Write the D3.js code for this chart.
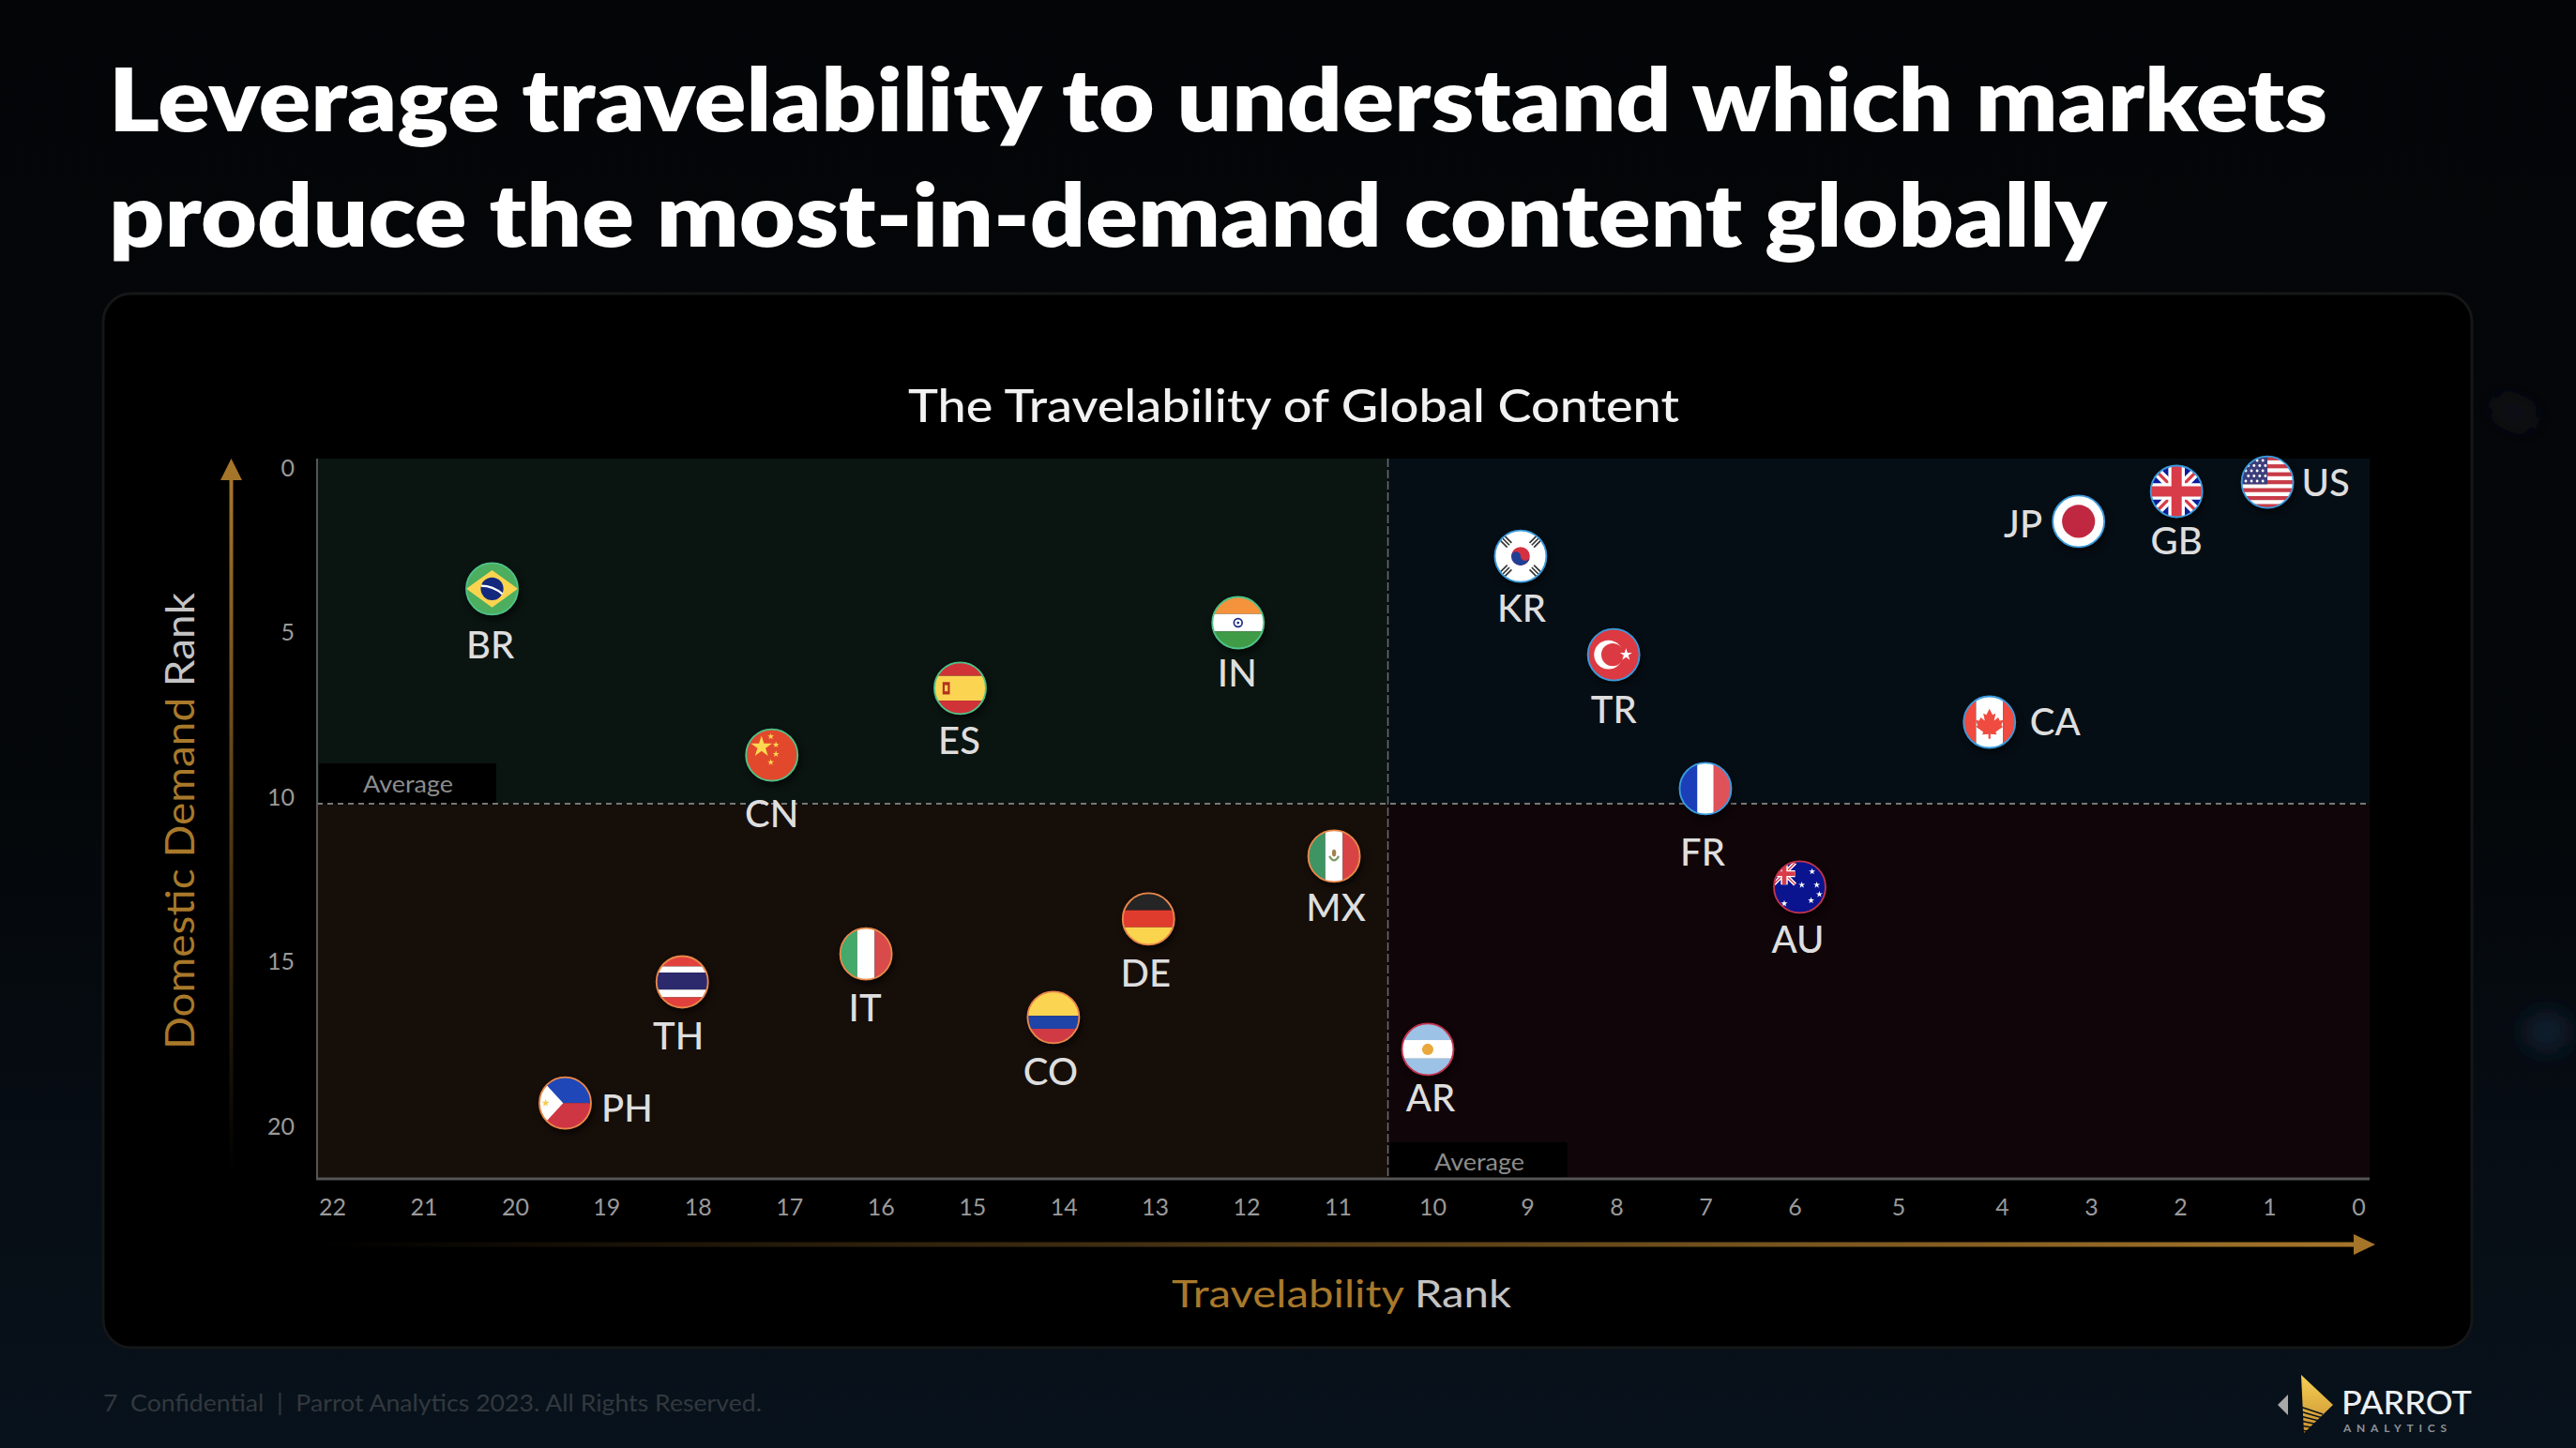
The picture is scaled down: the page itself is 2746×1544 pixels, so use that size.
<!DOCTYPE html>
<html>
<head>
<meta charset="utf-8">
<script src="https://cdn.jsdelivr.net/npm/d3@7"></script>
<style>
  body { margin: 0; background: #000; }
  svg { display: block; }
  text { font-family: Lato, sans-serif; }
  .flag { filter: drop-shadow(4px 8px 6px rgba(0,0,0,.55)); }
</style>
</head>
<body>
<div id="chart"></div>
<script>
// data
var countries      = ["BR","IN","ES","CN","KR","TR","JP","GB","US","CA","FR","MX","AU","DE","IT","TH","CO","AR","PH"];
var travelability  = [20.25,12.09,15.13,17.19,9.07,8.03,3.14,2.04,1.02,4.12,7.0,11.04,5.95,13.07,16.16,18.17,14.11,10.05,19.45];
var domesticDemand = [3.70,4.73,6.72,8.75,2.71,5.70,1.65,0.74,0.46,7.75,9.77,11.82,12.76,13.73,14.79,15.64,16.72,17.69,19.32];
var xTicks = d3.range(22, -1, -1);
var yTicks = [0, 5, 10, 15, 20];
var avgTravelability = 10.47;
var avgDemand = 10.23;

// where each country code sits relative to its flag
var labelOffset = {
  BR:[-2,60], IN:[-1,54], ES:[-1,56], CN:[0,62], KR:[1,55], TR:[0,59], JP:[-59,3], GB:[0,53], US:[62,0], CA:[70,0],
  FR:[-3,68], MX:[2,55], AU:[-2,56], DE:[-3,58], IT:[-1,57], TH:[-4,58], CO:[-3,58], AR:[3,52], PH:[66,5]
};

var width = 2746, height = 1544;
var plot = {left: 338, right: 2526, top: 489, bottom: 1257};
var gold = "#a9792b";
var flagR = 27.5;

// the tick row in the picture is not evenly spaced, so the scale has knots
var x = d3.scaleLinear().domain([22, 11, 9, 6, 4, 0]).range([354, 1426, 1628, 1913, 2134, 2514]);
var y = d3.scaleLinear().domain([0, 20]).range([498, 1200]);

var svg = d3.select("#chart").append("svg").attr("width", width).attr("height", height);
var defs = svg.append("defs");

function gradient(id, x1, y1, x2, y2, stops) {
  var g = defs.append("linearGradient").attr("id", id).attr("gradientUnits", "userSpaceOnUse")
    .attr("x1", x1).attr("y1", y1).attr("x2", x2).attr("y2", y2);
  stops.forEach(function(s) { g.append("stop").attr("offset", s[0]).attr("stop-color", s[1]); });
}
gradient("bg", 0, 0, 0, height, [[0, "#040507"], [0.55, "#04070a"], [1, "#08121c"]]);
gradient("yLine", 0, 512, 0, 1250, [[0, "#a5752a"], [1, "#000000"]]);
gradient("xLine", 340, 0, 2510, 0, [[0, "#000000"], [1, "#a5752a"]]);
gradient("logoGold", 0, 1466, 0, 1528, [[0, "#f6cf55"], [1, "#c9902f"]]);
defs.append("clipPath").attr("id", "flagClip").append("circle").attr("r", 50);
defs.append("filter").attr("id", "soft")
  .attr("x", "-200%").attr("y", "-200%").attr("width", "500%").attr("height", "500%")
  .append("feGaussianBlur").attr("stdDeviation", 14);

// page and card
svg.append("rect").attr("width", width).attr("height", height).attr("fill", "url(#bg)");
svg.append("ellipse").attr("cx", 2680).attr("cy", 440).attr("rx", 30).attr("ry", 12)
  .attr("fill", "#16181c").attr("filter", "url(#soft)").attr("transform", "rotate(25 2680 440)");
svg.append("ellipse").attr("cx", 2715).attr("cy", 1100).attr("rx", 22).attr("ry", 18)
  .attr("fill", "#12263a").attr("filter", "url(#soft)");
svg.append("rect").attr("x", 110).attr("y", 313).attr("width", 2525).attr("height", 1124)
  .attr("rx", 30).attr("fill", "#000").attr("stroke", "#151617").attr("stroke-width", 3);

// titles, stretched to the widths of the wider original typeface
function fitted(sel, len) {
  return sel.attr("textLength", len).attr("lengthAdjust", "spacingAndGlyphs");
}
fitted(svg.append("text").attr("x", 116).attr("y", 140).attr("font-size", 92).attr("font-weight", 800).attr("fill", "#fff"), 2365)
  .text("Leverage travelability to understand which markets");
fitted(svg.append("text").attr("x", 116).attr("y", 263).attr("font-size", 92).attr("font-weight", 800).attr("fill", "#fff"), 2130)
  .text("produce the most-in-demand content globally");
fitted(svg.append("text").attr("x", 968).attr("y", 450).attr("font-size", 48).attr("font-weight", 500).attr("fill", "#f2f2f2"), 822)
  .text("The Travelability of Global Content");

// quadrants
var midX = x(avgTravelability), midY = y(avgDemand);
var quadrants = [
  [plot.left, plot.top, midX, midY, "#0a1410"],
  [midX, plot.top, plot.right, midY, "#060e15"],
  [plot.left, midY, midX, plot.bottom, "#160e09"],
  [midX, midY, plot.right, plot.bottom, "#100508"]
];
svg.append("g").selectAll("rect").data(quadrants).join("rect")
  .attr("x", function(d) { return d[0]; })
  .attr("y", function(d) { return d[1]; })
  .attr("width", function(d) { return d[2] - d[0]; })
  .attr("height", function(d) { return d[3] - d[1]; })
  .attr("fill", function(d) { return d[4]; });

// average boxes and lines
svg.append("rect").attr("x", 340).attr("y", 814).attr("width", 189).attr("height", midY - 814).attr("fill", "#000");
svg.append("rect").attr("x", midX + 2).attr("y", 1218).attr("width", 189).attr("height", 39).attr("fill", "#000");
[[387, 836], [1529, 1239]].forEach(function(p) {
  fitted(svg.append("text").attr("x", p[0]).attr("y", p[1]).attr("dy", ".35em")
    .attr("font-size", 25).attr("fill", "#8c8c8c"), 96).text("Average");
});
svg.append("line").attr("x1", plot.left).attr("x2", plot.right).attr("y1", midY).attr("y2", midY)
  .attr("stroke", "#777").attr("stroke-width", 2).attr("stroke-dasharray", "6,5");
svg.append("line").attr("x1", midX).attr("x2", midX).attr("y1", plot.top).attr("y2", plot.bottom)
  .attr("stroke", "#6e6e6e").attr("stroke-width", 1.5).attr("stroke-dasharray", "9,3");
svg.append("line").attr("x1", plot.left).attr("x2", plot.left).attr("y1", plot.top).attr("y2", plot.bottom)
  .attr("stroke", "#555").attr("stroke-width", 2);
svg.append("line").attr("x1", plot.left - 1).attr("x2", plot.right).attr("y1", plot.bottom).attr("y2", plot.bottom)
  .attr("stroke", "#555").attr("stroke-width", 3);

// axes
var xAxis = svg.append("g").attr("transform", "translate(0,1278)")
  .call(d3.axisBottom(x).tickValues(xTicks).tickFormat(d3.format("d")).tickSize(0).tickPadding(0));
var yAxis = svg.append("g").attr("transform", "translate(314,1)")
  .call(d3.axisLeft(y).tickValues(yTicks).tickFormat(d3.format("d")).tickSize(0).tickPadding(0));
[xAxis, yAxis].forEach(function(a) {
  a.select(".domain").remove();
  a.selectAll("text").attr("font-size", 25).attr("font-family", "Lato, sans-serif").attr("fill", "#9a9a9a");
});

// axis arrows
svg.append("line").attr("x1", 246.5).attr("x2", 246.5).attr("y1", 510).attr("y2", 1250)
  .attr("stroke", "url(#yLine)").attr("stroke-width", 4);
svg.append("path").attr("d", "M246.5,489L258,512H235Z").attr("fill", "#a5752a");
svg.append("line").attr("x1", 340).attr("x2", 2511).attr("y1", 1327).attr("y2", 1327)
  .attr("stroke", "url(#xLine)").attr("stroke-width", 5);
svg.append("path").attr("d", "M2532,1327L2509,1316V1338Z").attr("fill", "#a5752a");

// axis titles
var yTitle = fitted(svg.append("text").attr("transform", "translate(207,1119) rotate(-90)").attr("font-size", 43), 487);
yTitle.append("tspan").attr("fill", gold).text("Domestic Demand ");
yTitle.append("tspan").attr("fill", "#c4c4c4").text("Rank");
var xTitle = fitted(svg.append("text").attr("x", 1249).attr("y", 1394).attr("font-size", 41), 362);
xTitle.append("tspan").attr("fill", gold).text("Travelability ");
xTitle.append("tspan").attr("fill", "#c4c4c4").text("Rank");

// flag helpers, all in a -50..50 box
function band(g, x0, y0, w, h, fill) {
  g.append("rect").attr("x", x0).attr("y", y0).attr("width", w).attr("height", h).attr("fill", fill);
}
function shape(g, d, fill) {
  return g.append("path").attr("d", d).attr("fill", fill);
}
function disc(g, cx, cy, r, fill) {
  return g.append("circle").attr("cx", cx).attr("cy", cy).attr("r", r).attr("fill", fill);
}
function star(g, cx, cy, size, fill) {
  g.append("path").attr("d", d3.symbol().type(d3.symbolStar).size(size)())
    .attr("transform", "translate(" + cx + "," + cy + ")").attr("fill", fill);
}
function hBands(g, stops) {
  stops.forEach(function(s) { band(g, -50, s[0], 100, s[1] - s[0], s[2]); });
}
function vBands(g, stops) {
  stops.forEach(function(s) { band(g, s[0], -50, s[1] - s[0], 100, s[2]); });
}
function unionJack(g, scale) {
  var u = g.append("g").attr("transform", "scale(" + scale + ")");
  u.append("path").attr("d", "M-50,-50L50,50M50,-50L-50,50").attr("stroke", "#fff").attr("stroke-width", 18);
  u.append("path").attr("d", "M-50,-50L50,50M50,-50L-50,50").attr("stroke", "#d83c48").attr("stroke-width", 6);
  u.append("path").attr("d", "M0,-50V50M-50,0H50").attr("stroke", "#fff").attr("stroke-width", 32);
  u.append("path").attr("d", "M0,-50V50M-50,0H50").attr("stroke", "#d83c48").attr("stroke-width", 20);
}

var flagPainters = {
  BR: function(g) {
    band(g, -50, -50, 100, 100, "#4cae5e");
    shape(g, "M-50,0L0,-36L50,0L0,36Z", "#fbd44f");
    disc(g, 0, 0, 22, "#13297e");
    g.append("path").attr("d", "M-21,-6Q2,-6 20,10").attr("fill", "none").attr("stroke", "#fff").attr("stroke-width", 4);
  },
  IN: function(g) {
    hBands(g, [[-50,-17,"#f5923c"], [-17,17,"#fff"], [17,50,"#3f9b46"]]);
    g.append("circle").attr("r", 8).attr("fill", "none").attr("stroke", "#1a2a80").attr("stroke-width", 3);
    disc(g, 0, 0, 2.5, "#1a2a80");
  },
  ES: function(g) {
    hBands(g, [[-50,-24,"#cf3338"], [-24,24,"#fbd452"], [24,50,"#cf3338"]]);
    band(g, -34, -12, 14, 24, "#b3301f");
    band(g, -30, -6, 6, 12, "#fbd452");
  },
  CN: function(g) {
    band(g, -50, -50, 100, 100, "#e2492c");
    star(g, -20, -16, 520, "#fbd84f");
    star(g, -2, -36, 50, "#fbd84f");
    star(g, 8, -20, 50, "#fbd84f");
    star(g, 8, -2, 50, "#fbd84f");
    star(g, -2, 14, 50, "#fbd84f");
  },
  KR: function(g) {
    band(g, -50, -50, 100, 100, "#fff");
    disc(g, 0, 0, 18, "#d5303f");
    shape(g, "M-18,0A9,9 0 0 1 0,0A9,9 0 0 0 18,0A18,18 0 0 1 -18,0Z", "#1f3f96");
    [[-28,-28,-1],[28,-28,1],[-28,28,1],[28,28,-1]].forEach(function(t) {
      var k = g.append("g").attr("transform", "translate(" + t[0] + "," + t[1] + ") rotate(" + (t[2] * 45 + 90) + ")");
      [-6, 0, 6].forEach(function(o) { band(k, -9, o - 1.5, 18, 3, "#333"); });
    });
  },
  TR: function(g) {
    band(g, -50, -50, 100, 100, "#dc3a42");
    disc(g, -10, 0, 28, "#fff");
    disc(g, -2, 0, 22, "#dc3a42");
    star(g, 24, 0, 170, "#fff");
  },
  JP: function(g) {
    band(g, -50, -50, 100, 100, "#fff");
    disc(g, 0, 0, 32, "#bf2840");
  },
  GB: function(g) {
    band(g, -50, -50, 100, 100, "#0b1b99");
    unionJack(g, 1);
  },
  US: function(g) {
    band(g, -50, -50, 100, 100, "#fff");
    d3.range(7).forEach(function(i) { band(g, -50, -50 + i * 15.4, 100, 7.7, "#c73b47"); });
    band(g, -50, -50, 50, 54, "#3d3f7c");
    d3.range(5).forEach(function(r) {
      d3.range(4).forEach(function(c) {
        disc(g, -42 + c * 11 + (r % 2) * 5, -42 + r * 10, 2.6, "#fff");
      });
    });
  },
  CA: function(g) {
    vBands(g, [[-50,-26,"#ef4b40"], [-26,26,"#fff"], [26,50,"#ef4b40"]]);
    shape(g, "M0,-26L6,-14L12,-17L9,-3L17,-9L20,-3L27,-4L23,6L26,9L12,19L14,24L2,23V32H-2V23L-14,24L-12,19L-26,9L-23,6L-27,-4L-20,-3L-17,-9L-9,-3L-12,-17L-6,-14Z", "#ef4b40");
  },
  FR: function(g) {
    vBands(g, [[-50,-16,"#1a3fb8"], [-16,16,"#fff"], [16,50,"#e0525a"]]);
  },
  MX: function(g) {
    vBands(g, [[-50,-17,"#3f9463"], [-17,17,"#fff"], [17,50,"#d84444"]]);
    g.append("ellipse").attr("rx", 4).attr("ry", 7).attr("cy", -6).attr("fill", "#a5834e");
    g.append("path").attr("d", "M-9,0Q0,16 9,0").attr("fill", "none").attr("stroke", "#7d9a62").attr("stroke-width", 4);
  },
  AU: function(g) {
    band(g, -50, -50, 100, 100, "#0a148f");
    var corner = g.append("g").attr("transform", "translate(-30,-26)");
    unionJack(corner, 0.42);
    [[24,-30],[33,-4],[22,26],[4,-4],[-30,32],[38,14]].forEach(function(s) { star(g, s[0], s[1], 50, "#fff"); });
  },
  DE: function(g) {
    hBands(g, [[-50,-17,"#252525"], [-17,16,"#e03c2e"], [16,50,"#fbd44e"]]);
  },
  IT: function(g) {
    vBands(g, [[-50,-17,"#44a96a"], [-17,17,"#fff"], [17,50,"#d94a4a"]]);
  },
  TH: function(g) {
    hBands(g, [[-50,-30,"#e2403c"], [-30,-18,"#fff"], [-18,15,"#2c2a6c"], [15,30,"#fff"], [30,50,"#e2403c"]]);
  },
  CO: function(g) {
    hBands(g, [[-50,-3,"#fbd452"], [-3,22,"#1e44a8"], [22,50,"#cf3a44"]]);
  },
  AR: function(g) {
    hBands(g, [[-50,-18,"#9cc2e5"], [-18,18,"#fff"], [18,50,"#9cc2e5"]]);
    disc(g, 0, 0, 11, "#e8a83c");
  },
  PH: function(g) {
    hBands(g, [[-50,0,"#1f47b8"], [0,50,"#cf3644"]]);
    shape(g, "M-50,-50L-4,0L-50,50Z", "#fff");
    star(g, -38, 0, 70, "#f5c94a");
  }
};

function ringColor(t, d) {
  if (d <= avgDemand) return t >= avgTravelability ? "#4fc38a" : "#3a9bdc";
  return t >= avgTravelability ? "#e8884a" : "#c4324c";
}

// one group per country
var points = countries.map(function(c, i) {
  return {code: c, t: travelability[i], d: domesticDemand[i]};
});

var marks = svg.append("g").selectAll("g").data(points).join("g")
  .attr("transform", function(p) { return "translate(" + x(p.t) + "," + y(p.d) + ")"; });

marks.each(function(p) {
  var flag = d3.select(this).append("g").attr("class", "flag").attr("transform", "scale(" + flagR / 50 + ")");
  flagPainters[p.code](flag.append("g").attr("clip-path", "url(#flagClip)"));
  flag.append("circle").attr("r", 50).attr("fill", "none")
    .attr("stroke", ringColor(p.t, p.d)).attr("stroke-width", 3.4);
});

marks.append("text")
  .attr("x", function(p) { return labelOffset[p.code][0]; })
  .attr("y", function(p) { return labelOffset[p.code][1]; })
  .attr("dy", ".36em").attr("text-anchor", "middle")
  .attr("font-size", 40).attr("font-weight", 500).attr("fill", "#dedede")
  .text(function(p) { return p.code; });

// footer
fitted(svg.append("text").attr("x", 110).attr("y", 1505).attr("font-size", 25).attr("fill", "#32383e"), 702)
  .text("7\u00a0\u00a0Confidential\u00a0\u00a0|\u00a0\u00a0Parrot Analytics 2023. All Rights Reserved.");

// logo
svg.append("path").attr("d", "M2428,1498L2439,1487V1509Z").attr("fill", "#a8a8a8");
svg.append("path").attr("d", "M2453,1466L2487,1498L2456,1528Z").attr("fill", "url(#logoGold)");
d3.range(6).forEach(function(i) {
  svg.append("path").attr("d", "M2452," + (1500 + i * 5) + "L2476," + (1508 + i * 5 - i))
    .attr("stroke", "#0a1118").attr("stroke-width", 1.5);
});
fitted(svg.append("text").attr("x", 2496).attr("y", 1508).attr("font-size", 34).attr("font-weight", 500).attr("fill", "#eceff1"), 139)
  .text("PARROT");
svg.append("text").attr("x", 2498).attr("y", 1527).attr("font-size", 12).attr("font-weight", 700).attr("fill", "#8d9297")
  .attr("textLength", 110).attr("lengthAdjust", "spacing").text("ANALYTICS");
</script>
</body>
</html>
